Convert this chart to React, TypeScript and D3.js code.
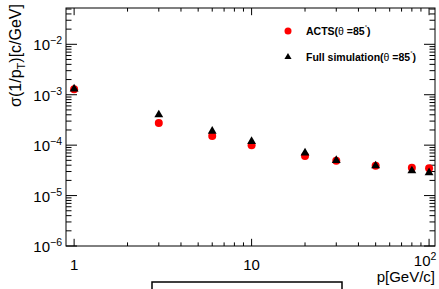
import * as d3 from "d3";
import { useEffect, useRef } from "react";

// momentum points [GeV/c]
const momentum = [1, 3, 6, 10, 20, 30, 50, 80, 100];
// sigma(1/pT) [c/GeV]
const actsRes = [1.28e-3, 2.75e-4, 1.52e-4, 9.9e-5, 6.1e-5, 4.9e-5, 3.9e-5, 3.55e-5, 3.5e-5];
const fullSimRes = [1.3e-3, 4.0e-4, 1.9e-4, 1.19e-4, 7.0e-5, 5.0e-5, 3.9e-5, 3.1e-5, 2.85e-5];

const xMajor = [1, 10, 100];
const xMajorLabels = ["1", "10", "10"];
const xMajorExp = ["", "", "2"];
const yMajorExp = [-6, -5, -4, -3, -2];

const legendLabels = ["ACTS(", "Full simulation("];

const App = () => {
  const svgRef = useRef(null);

  useEffect(() => {
    const w = 439;
    const h = 289;
    const left = 66,
      right = 435,
      top = 8,
      bottom = 246;
    const font = "'Liberation Sans', Arial, Helvetica, sans-serif";

    const svg = d3.select(svgRef.current).attr("width", w).attr("height", h);
    svg.selectAll("*").remove();

    svg.append("rect").attr("width", w).attr("height", h).attr("fill", "white");

    const xScale = d3.scaleLog().domain([0.9, 108]).range([left, right]);
    const yScale = d3
      .scaleLog()
      .domain([1e-6, Math.pow(10, -1.28)])
      .range([bottom, top]);

    // frame
    svg
      .append("rect")
      .attr("x", left)
      .attr("y", top)
      .attr("width", right - left)
      .attr("height", bottom - top)
      .attr("fill", "none")
      .attr("stroke", "black")
      .attr("stroke-width", 1);

    // x ticks (bottom + top, pointing in)
    const xTicks: number[] = [];
    for (let k = 0; k <= 2; k++)
      for (let m = 1; m <= 9; m++) {
        const v = m * Math.pow(10, k);
        if (v >= 0.9 && v <= 108) xTicks.push(v);
      }
    const tg = svg.append("g").attr("stroke", "black").attr("stroke-width", 1);
    xTicks.forEach((v) => {
      const len = xMajor.includes(v) ? 7.2 : 3.6;
      const x = xScale(v);
      tg.append("line").attr("x1", x).attr("x2", x).attr("y1", bottom).attr("y2", bottom - len);
      tg.append("line").attr("x1", x).attr("x2", x).attr("y1", top).attr("y2", top + len);
    });

    // y ticks (left + right)
    const yTicks: { v: number; major: boolean }[] = [];
    for (let k = -6; k <= -2; k++)
      for (let m = 1; m <= 9; m++) {
        const v = m * Math.pow(10, k);
        if (v >= 1e-6 && v <= Math.pow(10, -1.28)) yTicks.push({ v, major: m === 1 });
      }
    yTicks.forEach((t) => {
      const len = t.major ? 11 : 5.5;
      const y = yScale(t.v);
      tg.append("line").attr("x1", left).attr("x2", left + len).attr("y1", y).attr("y2", y);
      tg.append("line").attr("x1", right).attr("x2", right - len).attr("y1", y).attr("y2", y);
    });

    // x tick labels
    xMajor.forEach((v, i) => {
      const t = svg
        .append("text")
        .attr("x", xScale(v) + (xMajorExp[i] ? -4 : 0))
        .attr("y", xMajorExp[i] ? 266 : 270)
        .attr("text-anchor", "middle")
        .attr("font-family", font)
        .attr("font-size", 15)
        .text(xMajorLabels[i]);
      if (xMajorExp[i]) {
        t.append("tspan").attr("dy", -6).attr("font-size", 10.5).text(xMajorExp[i]);
      }
    });

    // y tick labels
    yMajorExp.forEach((e) => {
      const t = svg
        .append("text")
        .attr("x", 62)
        .attr("y", yScale(Math.pow(10, e)) + 6)
        .attr("text-anchor", "end")
        .attr("font-family", font)
        .attr("font-size", 15)
        .text("10");
      t.append("tspan").attr("dy", -6).attr("font-size", 10.5).text("\u2212" + -e);
    });

    // axis titles
    svg
      .append("text")
      .attr("x", right)
      .attr("y", 282)
      .attr("text-anchor", "end")
      .attr("font-family", font)
      .attr("font-size", 15)
      .text("p[GeV/c]");

    const yt = svg
      .append("text")
      .attr("transform", "translate(21,4) rotate(-90)")
      .attr("text-anchor", "end")
      .attr("font-family", font)
      .attr("font-size", 16)
      .text("\u03c3(1/p");
    yt.append("tspan").attr("dy", 4).attr("font-size", 11).text("T");
    yt.append("tspan").attr("dy", -4).text(")[c/GeV]");

    // data markers
    const tri = d3.symbol().type(d3.symbolTriangle).size(34);
    svg
      .append("g")
      .selectAll("circle")
      .data(momentum)
      .enter()
      .append("circle")
      .attr("cx", (d) => xScale(d))
      .attr("cy", (d, i) => yScale(actsRes[i]))
      .attr("r", 4)
      .attr("fill", "#ff0000");

    svg
      .append("g")
      .selectAll("path")
      .data(momentum)
      .enter()
      .append("path")
      .attr("d", tri)
      .attr("transform", (d, i) => `translate(${xScale(d)},${yScale(fullSimRes[i])})`)
      .attr("fill", "black");

    // legend
    const lg = svg.append("g").attr("font-family", font).attr("font-size", 10.5);
    const ly = [31, 57];
    lg.append("circle").attr("cx", 288).attr("cy", ly[0]).attr("r", 3.5).attr("fill", "#ff0000");
    lg.append("path").attr("d", d3.symbol().type(d3.symbolTriangle).size(22)).attr("transform", `translate(288,${ly[1]})`).attr("fill", "black");
    legendLabels.forEach((lab, i) => {
      const t = lg
        .append("text")
        .attr("x", 306)
        .attr("y", ly[i] + 4)
        .attr("font-weight", "bold")
        .text(lab);
      t.append("tspan").attr("font-weight", "normal").text("\u03b8");
      t.append("tspan").text(" =85");
      t.append("tspan").attr("dy", -6).attr("font-size", 6).attr("font-weight", "normal").text("\u00b0");
      t.append("tspan").attr("dy", 6).text(")");
    });

    // title box, cut off at the bottom
    svg
      .append("rect")
      .attr("x", 152)
      .attr("y", 282)
      .attr("width", 190)
      .attr("height", 20)
      .attr("fill", "white")
      .attr("stroke", "black")
      .attr("stroke-width", 1.5);
  }, []);

  return (
    <div style={{ position: "fixed", left: 0, top: 0 }}>
      <svg ref={svgRef}></svg>
    </div>
  );
};

export default App;
